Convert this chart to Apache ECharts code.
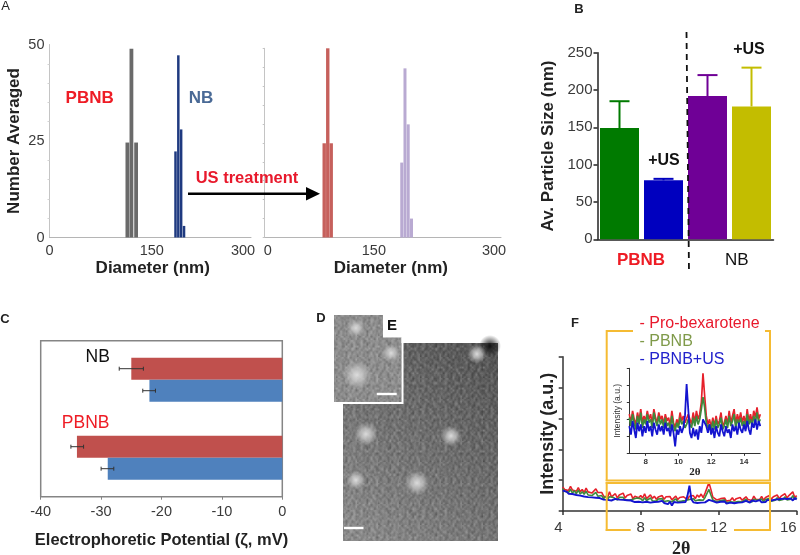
<!DOCTYPE html>
<html><head><meta charset="utf-8">
<style>html,body{margin:0;padding:0;background:#fff}#c{width:800px;height:555px}</style>
<script src="https://cdn.jsdelivr.net/npm/echarts@6/dist/echarts.min.js"></script>
</head><body><div id="c"></div>
<script>
// ---- Panel A: size distributions
const aGrayPBNB = [[115,24.6],[121,48.9],[128,24.6]];
const aNavyNB = [[187.6,22.3],[191.8,47.2],[196,28],[200.3,3]];
const aRedPBNB = [[75.3,24.9],[79.8,50],[84.2,24.9]];
const aLilacNB = [[174,19.8],[178.1,44.7],[182.2,29.9],[186.4,5]];
// ---- Panel B: average particle size
const bCategories = ['PBNB','PBNB +US','NB','NB +US'];
const bValues = [149,79,192,178];
const bErrorTops = [185,81,220,230];
// ---- Panel C: electrophoretic potential
const cCategories = ['NB','PBNB'];
const cRed = [-25,-34];
const cBlue = [-22,-28.9];
const cRedErr = [[-27,-23],[-35,-32.9]];
const cBlueErr = [[-23.1,-21],[-30,-27.9]];
// ---- Panel F main trace, 2-theta from 4 to 16 in steps of 0.1
const fRed = [.78,.70,.74,.66,.80,.68,.72,.64,.76,.62,.70,.60,.74,.62,.66,.58,.64,.72,.60,.55,.60,.48,.54,.44,.62,.46,.50,.56,.42,.52,.46,.58,.42,.50,.44,.55,.40,.48,.52,.43,.50,.42,.56,.40,.46,.52,.41,.48,.38,.45,.43,.50,.38,.46,.41,.47,.36,.42,.48,.37,.44,.39,.46,.41,.37,.48,.42,.50,.40,.52,.45,.55,.43,.58,.52,.92,.70,.45,.40,.36,.33,.40,.34,.42,.32,.38,.35,.43,.33,.40,.36,.44,.35,.39,.46,.37,.42,.34,.48,.38,.42,.37,.47,.35,.44,.40,.50,.38,.46,.42,.52,.40,.48,.44,.56,.42,.50,.46,.62,.44,.50];
const fGreen = [.72,.64,.68,.60,.70,.58,.66,.56,.68,.55,.62,.54,.64,.52,.58,.50,.56,.60,.48,.46,.50,.40,.48,.38,.46,.40,.44,.42,.36,.44,.38,.44,.36,.42,.35,.40,.38,.34,.42,.36,.40,.33,.43,.34,.38,.42,.33,.37,.32,.39,.35,.40,.31,.37,.33,.38,.30,.35,.39,.31,.36,.32,.38,.34,.31,.37,.35,.40,.33,.38,.36,.42,.35,.44,.48,.70,.52,.36,.34,.30,.29,.34,.28,.36,.27,.32,.30,.36,.28,.34,.31,.36,.30,.33,.38,.31,.35,.29,.38,.32,.35,.31,.39,.30,.37,.33,.41,.32,.38,.35,.43,.34,.40,.37,.46,.36,.42,.38,.50,.37,.44];
const fBlue = [.66,.60,.63,.56,.60,.55,.58,.52,.56,.50,.53,.47,.51,.45,.50,.44,.48,.43,.47,.42,.44,.37,.42,.36,.40,.34,.38,.39,.33,.37,.32,.36,.31,.35,.30,.34,.37,.29,.33,.30,.35,.28,.33,.30,.36,.27,.32,.29,.34,.30,.28,.33,.26,.31,.22,.30,.18,.29,.33,.27,.32,.28,.31,.29,.50,.82,.38,.28,.31,.26,.30,.27,.32,.28,.33,.36,.40,.32,.30,.27,.25,.30,.26,.31,.24,.29,.27,.32,.25,.30,.27,.32,.28,.26,.33,.29,.27,.34,.28,.31,.30,.35,.28,.33,.29,.36,.31,.34,.30,.37,.33,.38,.34,.40,.35,.39,.36,.41,.34,.42,.37];
// ---- Panel F inset trace, 2-theta from 7 to 15 in steps of 0.1
const iRed = [2.3,1.8,2.5,2.0,1.7,2.4,1.9,2.6,1.8,2.2,1.9,2.5,2.0,2.3,1.7,2.6,2.1,1.8,2.4,2.0,2.2,1.7,2.3,1.9,2.1,1.6,2.5,1.8,1.5,2.0,1.7,2.4,1.9,2.2,1.8,1.9,2.3,2.0,1.7,2.4,1.8,2.5,2.0,2.3,3.0,4.7,3.4,2.2,1.7,2.0,1.5,2.1,1.6,2.2,1.7,1.9,2.4,1.6,1.8,2.2,1.7,2.5,1.8,2.2,2.6,1.7,2.3,1.9,2.4,1.8,2.2,1.7,2.6,1.9,2.3,1.8,2.5,2.1,2.7,2.0,2.3];
const iGreen = [2.1,1.6,2.3,1.8,1.4,2.2,1.7,2.4,1.5,2.0,1.7,2.3,1.8,2.0,1.5,2.4,1.9,1.6,2.2,1.7,2.0,1.5,2.1,1.6,1.8,1.4,2.2,1.6,1.3,1.8,1.5,2.1,1.7,1.9,1.5,1.7,2.0,1.7,1.5,2.1,1.6,2.2,1.7,2.0,2.6,3.3,2.7,1.8,1.5,1.7,1.3,1.9,1.4,2.0,1.5,1.7,2.1,1.4,1.6,2.0,1.5,2.2,1.6,1.9,2.3,1.5,2.0,1.7,2.1,1.6,1.9,1.5,2.3,1.7,2.0,1.6,2.2,1.8,2.4,1.8,2.0];
const iBlue = [1.6,1.1,1.9,1.4,.9,1.8,1.3,1.7,1.0,1.6,1.2,1.9,1.3,1.6,1.0,1.8,1.4,1.1,1.7,1.3,1.6,1.1,1.8,1.3,1.5,1.0,1.7,1.2,.4,1.4,1.1,1.6,1.2,1.5,2.2,4.07,2.6,1.2,.9,1.5,1.0,1.4,.8,1.6,1.2,2.0,1.8,1.6,1.2,1.7,1.1,1.5,.9,1.6,1.2,1.0,1.7,1.3,1.0,1.6,1.2,1.4,.9,1.7,1.3,1.6,1.1,1.8,1.4,1.2,1.7,1.3,1.9,1.4,1.1,1.8,1.5,2.0,1.4,1.9,1.6];
// Brightness grain used for the micrograph texture (hand-typed tile)
const photoGrain = [2,-3,1,4,-2,0,3,-4,1,-1,3,-3,4,-1,-2,3,1,-4,2,0,-2,4,1,-2,3,0,-4,2,-1,3,4,-3,0,-1,2,4,-3,1,-2,-4,3,1,2,-2,-3,0,3,-1,4,-4,2,1,-3,2,-1,4,-2,2,-3,1,3,-1,0,-4,3,1,-2,4,0,-3,2,-1,3,-2,4,1,-4,0,2,-3,1,-1,3,-2,-3,4,0,-1,2,-4,3,1,2,-4,1,3,-2,4,-1,0,-3,2,-1,2,-3,0,4,-2,1,3,-4,3,0,-2,1,-3,4,-1,2,-2,3,-4,1];
const photoSpotsD = [[366,434,12],[451,436,10.5],[417,483,12.5],[356,480,9.5],[477,354,9.5]];
const photoSpotsE = [[356,328,9],[391,353,9],[357,375,14.5]];

const seq = (start, arr) => arr.map((v, i) => [+(start + i * 0.1).toFixed(1), v]);
const SANS = '"Liberation Sans", Arial, sans-serif';
const TXT = '#3a3a3a', ORANGE = '#f5bb33';

function grainTile(cols, cell, strength) {
  const rows = Math.floor(photoGrain.length / cols);
  const small = document.createElement('canvas');
  small.width = cols; small.height = rows;
  const sc = small.getContext('2d');
  const im = sc.createImageData(cols, rows);
  for (let i = 0; i < cols * rows; i++) {
    const v = photoGrain[i] / 4, c = v > 0 ? 255 : 0;
    im.data[i*4] = im.data[i*4+1] = im.data[i*4+2] = c;
    im.data[i*4+3] = Math.abs(v) * strength;
  }
  sc.putImageData(im, 0, 0);
  const t = document.createElement('canvas');
  t.width = Math.round(cols * cell); t.height = Math.round(rows * cell);
  const tc = t.getContext('2d');
  tc.imageSmoothingEnabled = true;
  tc.drawImage(small, 0, 0, t.width, t.height);
  return t;
}
const tileA = grainTile(11, 1.9, 34), tileB = grainTile(9, 2.6, 30);

function txt(text, x, y, size, fill, opts) {
  opts = opts || {};
  return {type:'text', x, y, rotation: opts.rotation || 0, z: 20, silent:true,
    style:{text, fill, font:(opts.bold?'bold ':'') + size + 'px ' + (opts.family || SANS),
      align:'center', verticalAlign:'middle', textAlign:'center', textVerticalAlign:'middle'}};
}
function ln(x1,y1,x2,y2,color,w,dash) {
  return {type:'line', z: 15, silent:true, shape:{x1,y1,x2,y2}, style:{stroke:color, lineWidth:w, lineDash:dash||null}};
}
function spot(s) {
  return {type:'circle', z:6, silent:true, shape:{cx:s[0],cy:s[1],r:s[2]},
    style:{fill:{type:'radial',x:.5,y:.5,r:.5,colorStops:[
      {offset:0,color:'rgba(225,225,225,.95)'},{offset:.45,color:'rgba(205,205,205,.7)'},{offset:1,color:'rgba(190,190,190,0)'}]}}};
}
const ePts = [[334,315],[383,315],[383,337.5],[401.5,337.5],[401.5,402],[334,402]];
const photo = [
  {type:'rect', z:4, silent:true, shape:{x:343,y:343,width:155,height:198},
    style:{fill:{type:'linear',x:0,y:0.9,x2:1,y2:0.05,colorStops:[{offset:0,color:'#8a8a8a'},{offset:.5,color:'#6c6c6c'},{offset:1,color:'#4e4e4e'}]}}},
  {type:'rect', z:5, silent:true, shape:{x:343,y:343,width:155,height:198}, style:{fill:{image:tileA,repeat:'repeat'}}},
  {type:'rect', z:5, silent:true, shape:{x:343,y:343,width:155,height:198}, style:{fill:{image:tileB,repeat:'repeat'}}},
  {type:'circle', z:5, silent:true, shape:{cx:490,cy:346,r:11},
    style:{fill:{type:'radial',x:.5,y:.5,r:.5,colorStops:[{offset:0,color:'rgba(15,15,15,.95)'},{offset:1,color:'rgba(20,20,20,0)'}]}}},
  ...photoSpotsD.map(spot),
  {type:'polygon', z:7, silent:true, shape:{points:ePts}, style:{fill:'#8d8d8d', stroke:'#fff', lineWidth:0}},
  {type:'polygon', z:8, silent:true, shape:{points:ePts}, style:{fill:{image:tileA,repeat:'repeat'}}},
  {type:'polygon', z:8, silent:true, shape:{points:ePts}, style:{fill:{image:tileB,repeat:'repeat'}}},
  ...photoSpotsE.map(s => { const o = spot(s); o.z = 9; return o; }),
  ln(334,403,402.7,403,'#fff',2), ln(402.5,337.5,402.5,404,'#fff',2),
  ln(344,528,363.5,528,'#fff',2.4), ln(376.7,394,396.7,394,'#fff',2.4),
];

const annotations = [
  txt('A',5.5,6.5,13,'#222'), txt('B',579,9,13,'#222',{bold:true}), txt('C',5,319,13,'#222',{bold:true}),
  txt('D',321,318,13,'#222',{bold:true}), txt('E',392,326,15,'#111',{bold:true}), txt('F',575,323,13,'#222',{bold:true}),
  txt('PBNB',89.7,98,17,'#ee1c25',{bold:true}), txt('NB',201,98.7,17,'#4a6a96',{bold:true}),
  txt('US treatment',247,178,16.5,'#e8192c',{bold:true}),
  ln(188,193.7,308,193.7,'#000',2.6),
  {type:'polygon', z:15, silent:true, shape:{points:[[306,187],[320,193.7],[306,200.4]]}, style:{fill:'#000'}},
  txt('+US',664,161,16,'#111',{bold:true}), txt('+US',749,50,16,'#111',{bold:true}),
  txt('PBNB',641,260,17,'#ee1c25',{bold:true}), txt('NB',736.7,260,17,'#111',{bold:false}),
  ln(686.5,32,689,273,'#111',1.8,[6,5]),
  txt('NB',97.7,356.7,17.5,'#111'), txt('PBNB',85.7,422.7,17.5,'#ee1c25'),
  ln(606.7,331,633,331,ORANGE,2), ln(765,331,770,331,ORANGE,2),
  ln(606.7,330,606.7,481,ORANGE,2), ln(770,330,770,481,ORANGE,2), ln(605.7,480.5,771,480.5,ORANGE,2),
  ln(606.7,482,606.7,531,ORANGE,2), ln(770,482,770,531,ORANGE,2), ln(605.7,483,771,483,ORANGE,2),
  ln(605.7,530,630.7,530,ORANGE,2), ln(650,530,706.7,530,ORANGE,2), ln(734,530,771,530,ORANGE,2),
  {type:'text',x:639.5,y:323.3,z:20,silent:true,style:{text:'- Pro-bexarotene',fill:'#e8192c',font:'16px '+SANS,align:'left',textAlign:'left',verticalAlign:'middle',textVerticalAlign:'middle'}},
  {type:'text',x:639.5,y:341.7,z:20,silent:true,style:{text:'- PBNB',fill:'#7f9a4a',font:'16px '+SANS,align:'left',textAlign:'left',verticalAlign:'middle',textVerticalAlign:'middle'}},
  {type:'text',x:639.5,y:359.3,z:20,silent:true,style:{text:'- PBNB+US',fill:'#2222cc',font:'16px '+SANS,align:'left',textAlign:'left',verticalAlign:'middle',textVerticalAlign:'middle'}},
];

const barBase = (name, data, x, color, width) => ({name, type:'bar', xAxisIndex:x, yAxisIndex:x, data, barWidth:width, barGap:'-100%', itemStyle:{color}, silent:true, animation:false});
const traceLine = (name, data, axis, color, w) => ({name, type:'line', xAxisIndex:axis, yAxisIndex:axis, data, showSymbol:false, symbol:'none', lineStyle:{color, width:w}, silent:true, animation:false, z:3});

const bColors = ['#007a00','#0000bf','#6f0096','#c3bd00'];
const bErr = {
  type:'custom', xAxisIndex:2, yAxisIndex:2, silent:true, animation:false, z:4,
  data: bCategories.map((c,i) => [i, bValues[i], bErrorTops[i]]),
  encode:{x:0,y:[1,2]},
  renderItem(p, api) {
    const i = api.value(0), a = api.coord([i, api.value(1)]), b = api.coord([i, api.value(2)]);
    const st = {stroke:bColors[i], lineWidth:2};
    return {type:'group', children:[
      {type:'line', shape:{x1:a[0],y1:a[1],x2:b[0],y2:b[1]}, style:st},
      {type:'line', shape:{x1:b[0]-10,y1:b[1],x2:b[0]+10,y2:b[1]}, style:st}]};
  }
};
const cErr = (errs, off) => ({
  type:'custom', xAxisIndex:3, yAxisIndex:3, silent:true, animation:false, z:4,
  data: errs.map((e,i) => [e[0], e[1], i]),
  encode:{x:[0,1],y:2},
  renderItem(p, api) {
    const i = api.value(2), a = api.coord([api.value(0), i]), b = api.coord([api.value(1), i]);
    const y = a[1] + off, st = {stroke:'#333', lineWidth:1};
    return {type:'group', children:[
      {type:'line', shape:{x1:a[0],y1:y,x2:b[0],y2:y}, style:st},
      {type:'line', shape:{x1:a[0],y1:y-2,x2:a[0],y2:y+2}, style:st},
      {type:'line', shape:{x1:b[0],y1:y-2,x2:b[0],y2:y+2}, style:st}]};
  }
});

const lab = {color:TXT, fontFamily:SANS, fontSize:14.5};
const nameBold = (s) => ({fontFamily:SANS, fontWeight:'bold', fontSize:s, color:'#222'});
const softAxis = {lineStyle:{color:'#c4c4c4',width:1}};
const G = {outerBoundsMode:'none', containLabel:false};

const option = {
  animation:false, backgroundColor:'#fff',
  grid:[
    {...G,left:49.5,top:44.5,width:201.5,height:193},
    {...G,left:264.7,top:48.3,width:236.3,height:189.2},
    {...G,left:597.5,top:52.7,width:176,height:186.6},
    {...G,left:40.7,top:340.7,width:241.6,height:156,show:true,borderColor:'#858585',borderWidth:1.5,backgroundColor:'#fff'},
    {...G,left:562.7,top:356.7,width:234,height:154.3},
    {...G,left:629.3,top:368.3,width:131,height:85},
  ],
  xAxis:[
    {gridIndex:0,type:'value',min:0,max:300,interval:150,splitLine:{show:false},axisLine:{show:true,lineStyle:{color:'#b5b5b5'}},axisTick:{show:false},
      axisLabel:{...lab,margin:6,formatter:v=>`{l${v}|${v}}`,rich:{l0:{...lab},l150:{...lab,padding:[0,0,0,3]},l300:{...lab,padding:[0,16,0,0]}}},
      name:'Diameter (nm)',nameLocation:'middle',nameGap:20,nameTextStyle:{...nameBold(17),padding:[0,0,0,5]}},
    {gridIndex:1,type:'value',min:0,max:300,interval:150,splitLine:{show:false},axisLine:{show:true,lineStyle:{color:'#b5b5b5'}},axisTick:{show:false},
      axisLabel:{...lab,margin:6,formatter:v=>`{l${v}|${v}}`,rich:{l0:{...lab,padding:[0,0,0,6]},l150:{...lab,padding:[0,18,0,0]},l300:{...lab,padding:[0,14,0,0]}}},
      name:'Diameter (nm)',nameLocation:'middle',nameGap:20,nameTextStyle:{...nameBold(17),padding:[0,0,0,16]}},
    {gridIndex:2,type:'category',data:bCategories,axisLabel:{show:false},axisTick:{show:false},axisLine:{lineStyle:{color:'#222',width:1.5}}},
    {gridIndex:3,type:'value',min:-40,max:0,interval:10,splitLine:{show:false},axisLine:{show:false},axisTick:{show:true,length:3,lineStyle:{color:'#858585'}},
      axisLabel:{...lab,margin:8,fontSize:14.5},name:'Electrophoretic Potential (ζ, mV)',nameLocation:'middle',nameGap:35,nameTextStyle:nameBold(16.5)},
    {gridIndex:4,type:'value',min:4,max:16,interval:4,splitLine:{show:false},axisLine:{lineStyle:{color:'#333',width:1.5}},axisTick:{show:true,length:4,inside:false,lineStyle:{color:'#333',width:1.5}},
      axisLabel:{...lab,fontSize:15,margin:9,alignMinLabel:'right',alignMaxLabel:'right'},
      name:'2θ',nameLocation:'middle',nameGap:29,nameTextStyle:{fontFamily:'"Liberation Serif",serif',fontWeight:'bold',fontSize:18,color:'#222',padding:[0,0,0,3]}},
    {gridIndex:5,type:'value',min:7,max:15,splitLine:{show:false},axisLine:{lineStyle:{color:'#333',width:1}},axisTick:{show:true,length:2.5,lineStyle:{color:'#333'},customValues:[8,10,12,14]},
      axisLabel:{fontFamily:SANS,fontWeight:'bold',fontSize:8,color:'#333',margin:4,customValues:[8,10,12,14]},
      name:'2θ',nameLocation:'middle',nameGap:13,nameTextStyle:{fontFamily:'"Liberation Serif",serif',fontWeight:'bold',fontSize:11,color:'#222'}},
  ],
  yAxis:[
    {gridIndex:0,type:'value',min:0,max:50,interval:25,splitLine:{show:false},axisLine:{show:true,...softAxis},axisTick:{show:false},minorTick:{show:true,splitNumber:5,length:2,lineStyle:{color:'#d4d4d4'}},
      axisLabel:{...lab,margin:5},name:'Number Averaged',nameLocation:'middle',nameGap:27,nameTextStyle:nameBold(17)},
    {gridIndex:1,type:'value',min:0,max:50,interval:5,splitLine:{show:false},axisLine:{show:true,...softAxis},axisTick:{show:true,length:2,...softAxis},axisLabel:{show:false}},
    {gridIndex:2,type:'value',min:0,max:250,interval:50,splitLine:{show:false},axisLine:{show:true,lineStyle:{color:'#222',width:1.5}},axisTick:{show:true,length:4,lineStyle:{color:'#222',width:1.5}},
      axisLabel:{...lab,fontSize:15,margin:5},name:'Av. Particle Size (nm)',nameLocation:'middle',nameGap:41,nameTextStyle:nameBold(17)},
    {gridIndex:3,type:'category',inverse:true,data:cCategories,axisLine:{show:false},axisTick:{show:false},axisLabel:{show:false}},
    {gridIndex:4,type:'value',min:0,max:5,interval:1,splitLine:{show:false},axisLine:{show:true,lineStyle:{color:'#333',width:1.5}},axisTick:{show:true,length:4,lineStyle:{color:'#333',width:1.5}},axisLabel:{show:false},
      name:'Intensity (a.u.)',nameLocation:'middle',nameGap:6,nameTextStyle:nameBold(18)},
    {gridIndex:5,type:'value',min:0,max:5,interval:1,splitLine:{show:false},axisLine:{show:true,lineStyle:{color:'#333',width:1}},axisTick:{show:true,length:2.5,lineStyle:{color:'#333'}},axisLabel:{show:false},
      name:'Intensity (a.u.)',nameLocation:'middle',nameGap:7,nameTextStyle:{fontFamily:SANS,fontSize:8.5,color:'#333'}},
  ],
  series:[
    barBase('PBNB',aGrayPBNB,0,'#6a6a6a',3.8), barBase('NB',aNavyNB,0,'#1f3a80',2.5),
    barBase('PBNB +US',aRedPBNB,1,'#c6605c',3.4), barBase('NB +US',aLilacNB,1,'#b9aad2',3),
    {type:'bar',xAxisIndex:2,yAxisIndex:2,barWidth:39,silent:true,animation:false,
      data:bValues.map((v,i)=>({value:v,itemStyle:{color:bColors[i]}}))},
    bErr,
    {name:'US',type:'bar',xAxisIndex:3,yAxisIndex:3,data:cRed,barWidth:22,barGap:0,itemStyle:{color:'#c0504d'},silent:true,animation:false},
    {name:'Blue',type:'bar',xAxisIndex:3,yAxisIndex:3,data:cBlue,barWidth:22,barGap:0,itemStyle:{color:'#4f81bd'},silent:true,animation:false},
    cErr(cRedErr,-11), cErr(cBlueErr,11),
    traceLine('Pro-bexarotene',seq(4,fRed),4,'#e6212b',1.6),
    traceLine('PBNB',seq(4,fGreen),4,'#3e8a3c',1.6),
    traceLine('PBNB+US',seq(4,fBlue),4,'#1414cf',1.9),
    traceLine('Pro-bexarotene inset',seq(7,iRed),5,'#e6212b',1.7),
    traceLine('PBNB inset',seq(7,iGreen),5,'#3e8a3c',1.7),
    traceLine('PBNB+US inset',seq(7,iBlue),5,'#1414cf',1.8),
  ],
  graphic:{elements:[...photo, ...annotations]},
};
const chart = echarts.init(document.getElementById('c'), null, {renderer:'canvas', width:800, height:555});
chart.setOption(option);
</script></body></html>
